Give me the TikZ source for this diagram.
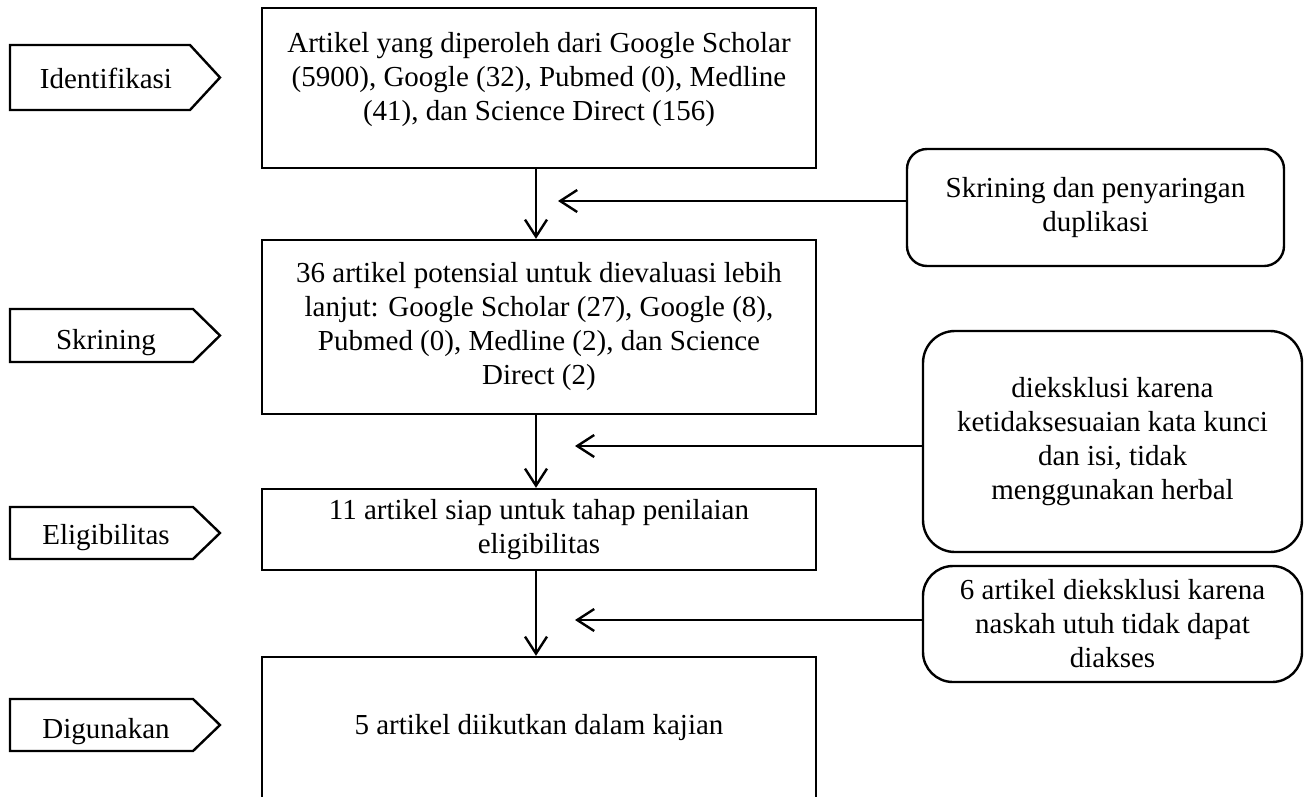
\documentclass[tikz,border=0pt]{standalone}
\usepackage{fontspec}
\setmainfont{Liberation Serif}
\usetikzlibrary{arrows.meta}
\begin{document}
\begin{tikzpicture}[x=1pt,y=-1pt,
  txt/.style={font=\fontsize{29}{34}\selectfont},
  box/.style={txt, draw, line width=2.4pt, minimum width=554pt, align=center, inner sep=0pt},
  rbox/.style={txt, draw, line width=2.4pt, align=center, inner sep=0pt},
  tagline/.style={line width=2.4pt, line join=miter},
  tagtext/.style={txt, anchor=base, inner sep=0pt},
  flow/.style={line width=2.4pt, -{Straight Barb[length=17pt,width=22pt]}}
]
\useasboundingbox (0,0) rectangle (1309,796);
\clip (0,0) rectangle (1309,796);

% main column
\node[box, minimum height=160pt] (b1) at (539,88) {};
\node[txt, align=center, inner sep=0pt] (b1t) at ([yshift=8pt]b1.center)
  {Artikel yang diperoleh dari Google Scholar\\(5900), Google (32), Pubmed (0), Medline\\(41), dan Science Direct (156)};
\node[box, minimum height=174pt] (b2) at (539,327)
  {36 artikel potensial untuk dievaluasi lebih\\lanjut: Google Scholar (27), Google (8),\\Pubmed (0), Medline (2), dan Science\\Direct (2)};
\node[box, minimum height=81pt] (b3) at (539,529.5)
  {11 artikel siap untuk tahap penilaian\\eligibilitas};
\node[box, minimum height=142pt] (b4) at (539,728)
  {5 artikel diikutkan dalam kajian};

% right column
\node[rbox, rounded corners=20pt, minimum width=377pt, minimum height=117pt] (r1) at (1095.5,207.5)
  {Skrining dan penyaringan\\duplikasi};
\node[rbox, rounded corners=32pt, minimum width=379pt, minimum height=221pt] (r2) at (1112.5,441.5)
  {dieksklusi karena\\ketidaksesuaian kata kunci\\dan isi, tidak\\menggunakan herbal};
\node[rbox, rounded corners=30pt, minimum width=379pt, minimum height=116pt] (r3) at (1112.5,624)
  {6 artikel dieksklusi karena\\naskah utuh tidak dapat\\diakses};

% left stage tags
\draw[tagline] (10,45) -- (190,45) -- (220,77.5) -- (190,110) -- (10,110) -- cycle;
\node[tagtext] (p1) at (106,88) {Identifikasi};
\draw[tagline] (10,309) -- (193,309) -- (220,335.5) -- (193,362) -- (10,362) -- cycle;
\node[tagtext] (p2) at (106,349) {Skrining};
\draw[tagline] (10,507) -- (193,507) -- (220,533) -- (193,559) -- (10,559) -- cycle;
\node[tagtext] (p3) at (106,544) {Eligibilitas};
\draw[tagline] (10,699) -- (193,699) -- (220,725) -- (193,751) -- (10,751) -- cycle;
\node[tagtext] (p4) at (106,738) {Digunakan};

% connectors
\draw[flow] ([xshift=-3pt]b1.south) -- ([xshift=-3pt]b2.north);
\draw[flow] ([xshift=-3pt]b2.south) -- ([xshift=-3pt]b3.north);
\draw[flow] ([xshift=-3pt]b3.south) -- ([xshift=-3pt]b4.north);

\coordinate (t1) at (558,201);
\coordinate (t2) at (575,446);
\coordinate (t3) at (575,620);
\draw[flow] (r1.west |- t1) -- (t1);
\draw[flow] (r2.west |- t2) -- (t2);
\draw[flow] (r3.west |- t3) -- (t3);
\end{tikzpicture}
\end{document}
